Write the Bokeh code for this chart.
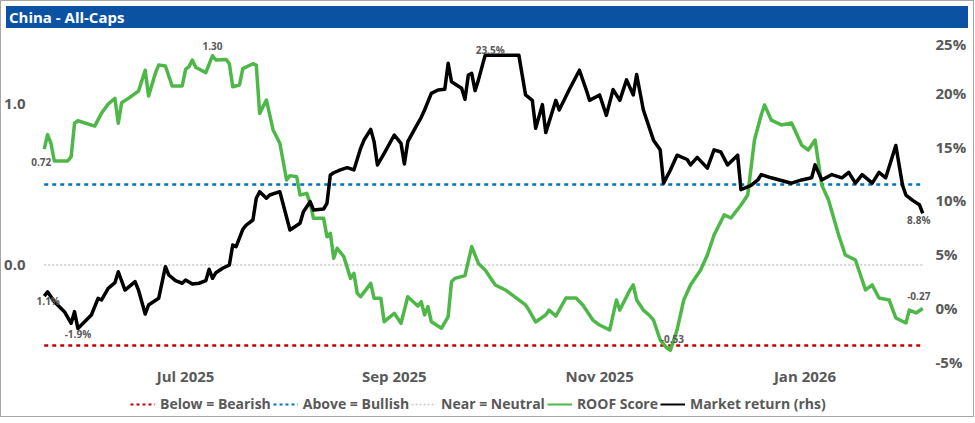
import pandas as pd
from bokeh.plotting import figure
from bokeh.models import (Range1d, LinearAxis, FixedTicker, PrintfTickFormatter, Label,
                          DatetimeTickFormatter, Legend, LegendItem, Div)
from bokeh.layouts import column
from bokeh.embed import file_html
from bokeh.resources import INLINE

# ---------------- data ----------------
title_text = "China - All-Caps"

roof_dates = ["2025-05-20","2025-05-21","2025-05-22","2025-05-23","2025-05-27","2025-05-28","2025-05-29","2025-05-30",
"2025-06-04","2025-06-06","2025-06-08","2025-06-10","2025-06-11","2025-06-12","2025-06-14","2025-06-17","2025-06-19",
"2025-06-20","2025-06-22","2025-06-23","2025-06-25","2025-06-27","2025-06-30","2025-07-01","2025-07-02","2025-07-03",
"2025-07-04","2025-07-07","2025-07-09","2025-07-10","2025-07-13","2025-07-14","2025-07-15","2025-07-17","2025-07-18",
"2025-07-21","2025-07-22","2025-07-23","2025-07-25","2025-07-27","2025-07-29","2025-07-31","2025-08-01","2025-08-03",
"2025-08-04","2025-08-06","2025-08-07","2025-08-08","2025-08-11","2025-08-12","2025-08-13","2025-08-14","2025-08-15",
"2025-08-17","2025-08-19","2025-08-20","2025-08-21","2025-08-22","2025-08-25","2025-08-26","2025-08-28","2025-08-29",
"2025-09-01","2025-09-03","2025-09-05","2025-09-08","2025-09-09","2025-09-10","2025-09-11","2025-09-12","2025-09-15",
"2025-09-17","2025-09-18","2025-09-19","2025-09-22","2025-09-24","2025-09-26","2025-09-28","2025-10-01","2025-10-04",
"2025-10-06","2025-10-10","2025-10-11","2025-10-13","2025-10-16","2025-10-17","2025-10-19","2025-10-22","2025-10-25",
"2025-10-27","2025-10-30","2025-11-01","2025-11-04","2025-11-06","2025-11-07","2025-11-10","2025-11-11","2025-11-12",
"2025-11-14","2025-11-16","2025-11-17","2025-11-19","2025-11-21","2025-11-22","2025-11-24","2025-11-26","2025-11-28",
"2025-12-01","2025-12-03","2025-12-05","2025-12-08","2025-12-10","2025-12-13","2025-12-15","2025-12-17","2025-12-19",
"2025-12-20","2025-12-22","2025-12-25","2025-12-28","2025-12-29","2025-12-31","2026-01-02","2026-01-04","2026-01-06",
"2026-01-08","2026-01-11","2026-01-13","2026-01-16","2026-01-17","2026-01-19","2026-01-21","2026-01-23","2026-01-26",
"2026-01-28","2026-01-31","2026-02-01","2026-02-03","2026-02-05"]
roof_score = [0.72,0.81,0.756,0.646,0.646,0.673,0.88,0.896,
0.863,0.942,1.0,1.035,0.88,1.008,1.035,1.08,1.21,
1.05,1.19,1.242,1.236,1.112,1.112,1.215,1.232,1.273,
1.228,1.195,1.30,1.273,1.277,1.25,1.107,1.118,1.22,
1.25,1.242,0.942,1.025,0.839,0.756,0.528,0.555,0.548,
0.435,0.445,0.383,0.29,0.29,0.176,0.197,0.042,0.104,
0.052,-0.083,-0.052,-0.176,-0.197,-0.114,-0.207,-0.207,-0.352,
-0.30,-0.362,-0.197,-0.255,-0.228,-0.31,-0.259,-0.352,-0.393,
-0.321,-0.104,-0.083,-0.066,0.114,0.01,-0.031,-0.124,-0.155,
-0.186,-0.248,-0.28,-0.354,-0.31,-0.28,-0.317,-0.205,-0.205,
-0.248,-0.342,-0.373,-0.404,-0.217,-0.28,-0.155,-0.124,-0.217,
-0.28,-0.317,-0.342,-0.466,-0.516,-0.53,-0.404,-0.217,-0.124,
-0.031,0.062,0.186,0.311,0.292,0.373,0.435,0.776,0.932,
0.994,0.9,0.87,0.882,0.839,0.745,0.714,0.776,0.497,
0.404,0.186,0.062,0.031,-0.031,-0.155,-0.124,-0.205,-0.217,
-0.329,-0.36,-0.28,-0.298,-0.27]

mkt_dates = ["2025-05-20","2025-05-21","2025-05-23","2025-05-26","2025-05-28","2025-05-29","2025-05-30","2025-06-01",
"2025-06-03","2025-06-05","2025-06-06","2025-06-08","2025-06-10","2025-06-11","2025-06-13","2025-06-16","2025-06-17",
"2025-06-19","2025-06-20","2025-06-23","2025-06-25","2025-06-26","2025-06-28","2025-06-30","2025-07-01","2025-07-03",
"2025-07-05","2025-07-07","2025-07-08","2025-07-09","2025-07-10","2025-07-12","2025-07-14","2025-07-15","2025-07-16",
"2025-07-18","2025-07-19","2025-07-21","2025-07-22","2025-07-23","2025-07-25","2025-07-26","2025-07-29","2025-08-01",
"2025-08-04","2025-08-05","2025-08-07","2025-08-08","2025-08-11","2025-08-12","2025-08-13","2025-08-14","2025-08-16",
"2025-08-18","2025-08-20","2025-08-22","2025-08-23","2025-08-25","2025-08-26","2025-08-27","2025-08-29","2025-09-01",
"2025-09-03","2025-09-04","2025-09-05","2025-09-07","2025-09-09","2025-09-10","2025-09-12","2025-09-14","2025-09-16",
"2025-09-17","2025-09-18","2025-09-21","2025-09-22","2025-09-23","2025-09-24","2025-09-25","2025-09-26","2025-09-28",
"2025-10-08","2025-10-10","2025-10-12","2025-10-13","2025-10-15","2025-10-16","2025-10-19","2025-10-20","2025-10-23",
"2025-10-26","2025-10-28","2025-10-29","2025-11-01","2025-11-03","2025-11-05","2025-11-07","2025-11-09","2025-11-11",
"2025-11-12","2025-11-14","2025-11-17","2025-11-19","2025-11-20","2025-11-22","2025-11-24","2025-11-27","2025-11-28",
"2025-11-30","2025-12-03","2025-12-05","2025-12-07","2025-12-09","2025-12-12","2025-12-13","2025-12-16","2025-12-18",
"2025-12-19","2025-12-22","2025-12-28","2025-12-31","2026-01-03","2026-01-04","2026-01-06","2026-01-09","2026-01-12",
"2026-01-14","2026-01-16","2026-01-18","2026-01-21","2026-01-23","2026-01-25","2026-01-28","2026-01-30","2026-01-31",
"2026-02-02","2026-02-04","2026-02-05"]
mkt_return = [1.1,1.5,0.59,-0.34,-1.42,-0.34,-1.9,-1.27,
-0.65,0.9,0.74,1.83,2.35,3.37,1.67,2.45,1.67,
-0.56,0.28,0.9,3.84,3.07,2.54,2.3,2.6,2.23,
2.3,2.54,3.6,2.76,3.28,3.69,4.0,5.86,5.7,
7.31,7.71,8.18,10.2,10.81,10.2,10.5,10.81,7.25,
7.87,8.95,9.88,9.11,9.2,9.73,12.36,12.57,12.83,
13.04,12.83,14.84,15.61,16.6,15.46,13.29,14.38,16.08,
15.3,13.38,15.46,16.6,17.72,18.4,19.95,20.26,20.32,
22.74,21.03,20.42,19.4,21.65,21.8,20.2,21.2,23.5,
23.5,19.8,19.3,16.7,18.9,16.3,19.3,18.4,20.3,
22.1,20.3,19.3,19.8,17.9,20.3,19.3,21.2,19.8,
21.7,18.4,15.6,14.7,11.6,12.8,14.2,13.8,13.3,
14.0,13.0,14.7,14.5,13.3,14.2,11.0,11.4,11.9,
12.4,12.1,11.6,11.9,12.1,13.3,11.9,12.4,12.1,
12.6,11.6,12.4,11.6,12.6,12.1,15.1,11.4,10.5,
10.0,9.6,8.8]

bearish_level = -0.5
bullish_level = 0.5
neutral_level = 0.0

x_tick_dates = ["2025-07-01", "2025-09-01", "2025-11-01", "2026-01-01"]
left_ticks = [0.0, 1.0]
right_ticks = [-5, 0, 5, 10, 15, 20, 25]

legend_labels = ["Below = Bearish", "Above = Bullish", "Near = Neutral", "ROOF Score", "Market return (rhs)"]

# ---------------- styling / layout ----------------
FONT = "Open Sans"
GREY = "#595959"
GREEN = "#4DB848"
BLUE_T = "#0B52A2"
RED = "#C00000"
BLUE = "#0070C0"
NEUT = "#C8C8C8"

MB_L, MB_R, MB_T, MB_B = 24, 30, 0, 26
FW, FH = 904, 332
W = 962

# calibration of the page geometry (screen px)
frame_left_abs = 27.3
frame_right_abs = frame_left_abs + FW
frame_top_abs = 33.5
frame_bot_abs = frame_top_abs + FH
px_day = 3.366
jul1_abs = 184.4

# left axis: 0.0 at y=265, 161 px per unit; right axis: 0% at y=308, 10.76 px per %
def lv(yabs):
    return (265 - yabs) / 161.0
def rv(yabs):
    return (308 - yabs) / 10.76

rd = pd.to_datetime(roof_dates)
md = pd.to_datetime(mkt_dates)

jul1 = pd.Timestamp("2025-07-01")
x0 = jul1 - pd.Timedelta(days=(jul1_abs - frame_left_abs) / px_day)
x1 = jul1 + pd.Timedelta(days=(frame_right_abs - jul1_abs) / px_day)

p = figure(frame_width=FW, frame_height=FH, x_axis_type="datetime", output_backend="svg", title=None,
           toolbar_location=None, x_range=Range1d(x0, x1),
           y_range=Range1d(lv(frame_bot_abs), lv(frame_top_abs)),
           min_border_left=MB_L, min_border_right=MB_R, min_border_top=MB_T, min_border_bottom=MB_B,
           background_fill_color="white", border_fill_color="white")
p.outline_line_color = None
p.grid.visible = False
p.extra_y_ranges = {"ret": Range1d(rv(frame_bot_abs), rv(frame_top_abs))}

def style_axis(ax, size="15px"):
    ax.axis_line_color = None
    ax.major_tick_line_color = None
    ax.minor_tick_line_color = None
    ax.major_tick_out = 0
    ax.minor_tick_out = 0
    ax.major_tick_in = 0
    ax.minor_tick_in = 0
    ax.major_label_text_font = FONT
    ax.major_label_text_font_style = "bold"
    ax.major_label_text_font_size = size
    ax.major_label_text_color = GREY

xa = p.xaxis[0]
xa.ticker = FixedTicker(ticks=[pd.Timestamp(d).value / 1e6 for d in x_tick_dates])
fmt = "%b %Y"
xa.formatter = DatetimeTickFormatter(days=fmt, months=fmt, years=fmt, hours=fmt, hourmin=fmt)
style_axis(xa, "15px")
xa.major_label_standoff = 0

ya = p.yaxis[0]
ya.ticker = FixedTicker(ticks=left_ticks)
ya.formatter = PrintfTickFormatter(format="%.1f")
style_axis(ya)
ya.major_label_standoff = 3

ra = LinearAxis(y_range_name="ret", ticker=FixedTicker(ticks=right_ticks),
                formatter=PrintfTickFormatter(format="%d%%"))
style_axis(ra)
ra.major_label_standoff = 3
p.add_layout(ra, "right")

span_x = [rd[0], rd[-1]]
p.line(span_x, [bearish_level] * 2, line_color=RED, line_width=2.5, line_dash="4 4")
p.line(span_x, [bullish_level] * 2, line_color=BLUE, line_width=2.5, line_dash="4 4")
p.line(span_x, [neutral_level] * 2, line_color=NEUT, line_width=1.5, line_dash="2 2")
p.line(rd, roof_score, line_color=GREEN, line_width=3.5, line_join="round")
p.line(md, mkt_return, line_color="black", line_width=3.5, line_join="round", y_range_name="ret")

# data labels; y_offset > 0 is up
def lab(x, y, txt, dy, dx=0, rng="default"):
    lbl = Label(x=x.value / 1e6, y=y, text=txt, x_offset=dx, y_offset=dy, y_range_name=rng,
                text_align="center", text_baseline="middle", text_font=FONT,
                text_font_style="bold", text_font_size="10px", text_color=GREY)
    p.add_layout(lbl)

i_max = max(range(len(roof_score)), key=lambda i: roof_score[i])
i_min = min(range(len(roof_score)), key=lambda i: roof_score[i])
lab(rd[0], roof_score[0], f"{roof_score[0]:.2f}", -13, -3)
lab(rd[i_max], roof_score[i_max], f"{roof_score[i_max]:.2f}", 10, 0)
lab(rd[i_min], roof_score[i_min], f"{roof_score[i_min]:.2f}", 11, 2)
lab(rd[-1], roof_score[-1], f"{roof_score[-1]:.2f}", 12, -4)

j_max = max(range(len(mkt_return)), key=lambda i: mkt_return[i])
j_min = min(range(len(mkt_return)), key=lambda i: mkt_return[i])
lab(md[0], mkt_return[0], f"{mkt_return[0]:.1f}%", -5, 4, "ret")
lab(md[j_min], mkt_return[j_min], f"{mkt_return[j_min]:.1f}%", -6, 0, "ret")
lab(md[j_max], mkt_return[j_max], f"{mkt_return[j_max]:.1f}%", 5, 5, "ret")
lab(md[-1], mkt_return[-1], f"{mkt_return[-1]:.1f}%", -7, -4, "ret")

# ---------------- legend (own strip) ----------------
lg = figure(width=W, height=25, output_backend="svg", toolbar_location=None, title=None,
            x_range=Range1d(0, 1), y_range=Range1d(0, 1), min_border=0,
            background_fill_color="white", border_fill_color="white")
lg.axis.visible = False
lg.grid.visible = False
lg.outline_line_color = None
leg_styles = [dict(line_color=RED, line_width=2, line_dash="3 3"),
              dict(line_color=BLUE, line_width=2, line_dash="3 3"),
              dict(line_color=NEUT, line_width=1.5, line_dash="2 2"),
              dict(line_color=GREEN, line_width=2),
              dict(line_color="black", line_width=2)]
items = []
for lbl, st in zip(legend_labels, leg_styles):
    r = lg.line([-5, -4], [-5, -4], **st)
    items.append(LegendItem(label=lbl, renderers=[r]))
legend = Legend(items=items, orientation="horizontal", location=(102, 3),
                label_text_font=FONT, label_text_font_style="bold", label_text_font_size="14px",
                label_text_color=GREY, glyph_width=25, glyph_height=14, label_standoff=5,
                spacing=2, padding=0, margin=0, border_line_color=None, background_fill_alpha=0)
lg.add_layout(legend, "center")

title = Div(text=title_text, width=W, height=22,
            styles={"background-color": BLUE_T, "color": "white", "font-family": FONT,
                    "font-weight": "bold", "font-size": "15px", "padding-left": "3px",
                    "line-height": "22px", "box-sizing": "border-box"})

layout = column(title, p, lg, spacing=0, styles={"border": "1px solid #A6A6A6"})

open("out.html", "w").write(file_html(layout, INLINE))
